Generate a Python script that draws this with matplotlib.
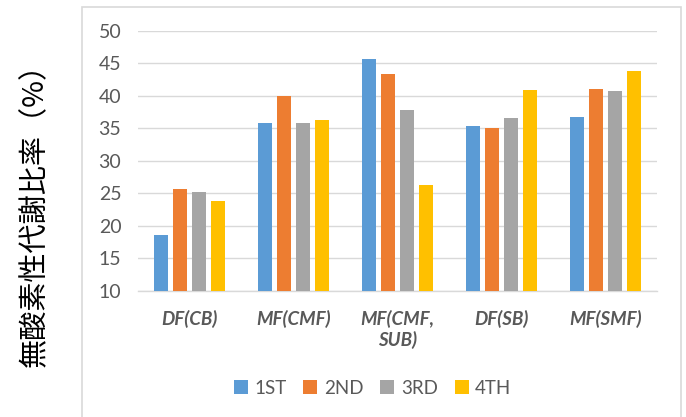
import matplotlib
matplotlib.use("Agg")
import matplotlib.pyplot as plt
import numpy as np
from matplotlib.patches import Rectangle

categories = ["DF(CB)", "MF(CMF)", "MF(CMF,\nSUB)", "DF(SB)", "MF(SMF)"]
series_names = ["1ST", "2ND", "3RD", "4TH"]
s1 = [18.5, 35.8, 45.6, 35.4, 36.8]
s2 = [25.6, 40.0, 43.4, 35.1, 41.0]
s3 = [25.2, 35.8, 37.8, 36.5, 40.7]
s4 = [23.8, 36.2, 26.2, 40.9, 43.8]
yticks = [10, 15, 20, 25, 30, 35, 40, 45, 50]
ylabel = "無酸素性代謝比率（%）"

colors = ["#5B9BD5", "#ED7D31", "#A5A5A5", "#FFC000"]
txt = "#595959"
grid = "#D9D9D9"

plt.rcParams['font.family'] = ['Lato', 'DejaVu Sans']

fig = plt.figure(figsize=(6.86, 4.17), dpi=100)
fig.patch.set_facecolor("white")
ax = fig.add_axes([138/686, 1-290.7/417, (657-138)/686, (290.7-30.7)/417])

x = np.arange(len(categories))
pitch = 19/104
width = 14/104
for i, (vals, name) in enumerate(zip([s1, s2, s3, s4], series_names)):
    ax.bar(x + (i-1.5)*pitch, vals, width=width, color=colors[i], label=name, zorder=3)

ax.set_xlim(-0.5, len(categories)-0.5)
ax.set_ylim(10, 50)
ax.set_yticks(yticks)
ax.set_yticklabels([str(t) for t in yticks], fontsize=14, color=txt)
ax.set_xticks(x)
ax.set_xticklabels(categories, fontsize=13.5, color=txt, fontweight='bold', style='italic', linespacing=1.2)
ax.tick_params(axis='both', length=0)
ax.tick_params(axis='y', pad=12)
ax.tick_params(axis='x', pad=14)
for s in ['top', 'right', 'left']:
    ax.spines[s].set_visible(False)
ax.spines['bottom'].set_color(grid)
ax.spines['bottom'].set_linewidth(1)
ax.grid(axis='y', color=grid, linewidth=1, zorder=0)
ax.set_axisbelow(True)

leg = fig.legend(loc='center', bbox_to_anchor=(372.5/686, 1-388/417), ncol=4, frameon=False,
                 fontsize=13.5, handlelength=0.75, handleheight=0.75, handletextpad=0.35,
                 columnspacing=0.9)
for t in leg.get_texts():
    t.set_color(txt)

fig.text(35/686, 1-207.5/417, ylabel, rotation=90, ha='center', va='center', fontsize=21,
         family=['Noto Sans CJK JP', 'DejaVu Sans'], color='black')

rect = Rectangle((82/686, -0.05), (681-82)/686, 1.05-7/417, transform=fig.transFigure,
                 fill=False, edgecolor=grid, linewidth=1.2, clip_on=False)
fig.add_artist(rect)

fig.savefig("out.png", dpi=100)
